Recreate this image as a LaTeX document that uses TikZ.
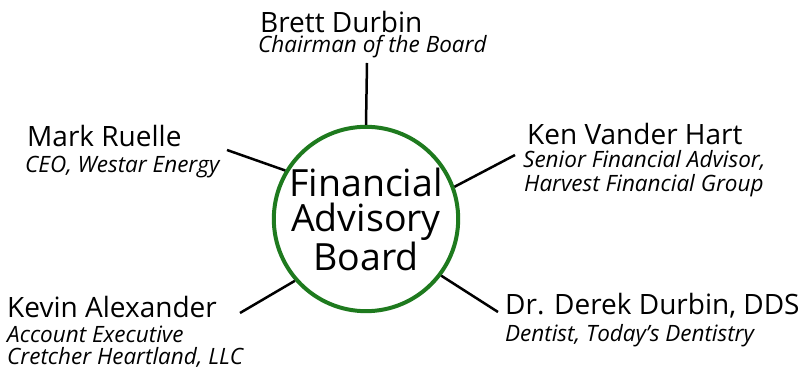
\documentclass[tikz,border=0pt]{standalone}
\usepackage{fontspec}
\setmainfont{Open Sans}
\usepackage[HTML]{xcolor}
\usepackage{tikz}
\usetikzlibrary{positioning}

\definecolor{boardgreen}{HTML}{1E7A1E}
\tikzset{
  person/.style={anchor=base west, inner sep=0pt, font=\fontsize{28}{30}\selectfont},
  role/.style={anchor=base west, inner sep=0pt, font=\fontsize{22.5}{24}\selectfont\itshape},
  link/.style={line width=2.5pt, black}
}

\begin{document}
\begin{tikzpicture}[x=1pt, y=1pt]
\useasboundingbox (0,0) rectangle (807,372);

% the board in the middle
\node[circle, draw=boardgreen, line width=4pt, minimum size=178pt, inner sep=0pt,
      align=center, font=\fontsize{37.5}{35.5}\selectfont] (board) at (366,153)
      {Financial\\Advisory\\Board};

% members
\node[person] (brett) at (260,339) {Brett Durbin};
\node[role] (brettrole) at (258,319) {Chairman of the Board};

\node[person] (mark) at (27,225) {Mark Ruelle};
\node[role] (markrole) at (25,199) {CEO, Westar Energy};

\node[person] (ken) at (527,227) {Ken Vander Hart};
\node[role] (kenrole) at (523,204) {Senior Financial Advisor,};
\node[role] (kenfirm) at (524,180) {Harvest Financial Group};

\node[person] (kevin) at (7,54) {Kevin Alexander};
\node[role] (kevinrole) at (7,29) {Account Executive};
\node[role] (kevinfirm) at (7,7) {Cretcher Heartland, LLC};

\node[person] (derek) at (505,57) {Dr. Derek Durbin, DDS};
\node[role] (derekrole) at (505,30) {Dentist, Today’s Dentistry};

% connectors
\coordinate (brettend) at (367,309);
\coordinate (markend) at (227,222);
\coordinate (kenend) at (515,217);
\coordinate (kevinend) at (240,59);
\coordinate (derekend) at (498,60);

\draw[link] (board.north) -- (brettend);
\draw[link] (board.149) -- (markend);
\draw[link] (board.20) -- (kenend);
\draw[link] (board.221) -- (kevinend);
\draw[link] (board.323) -- (derekend);
\end{tikzpicture}
\end{document}
